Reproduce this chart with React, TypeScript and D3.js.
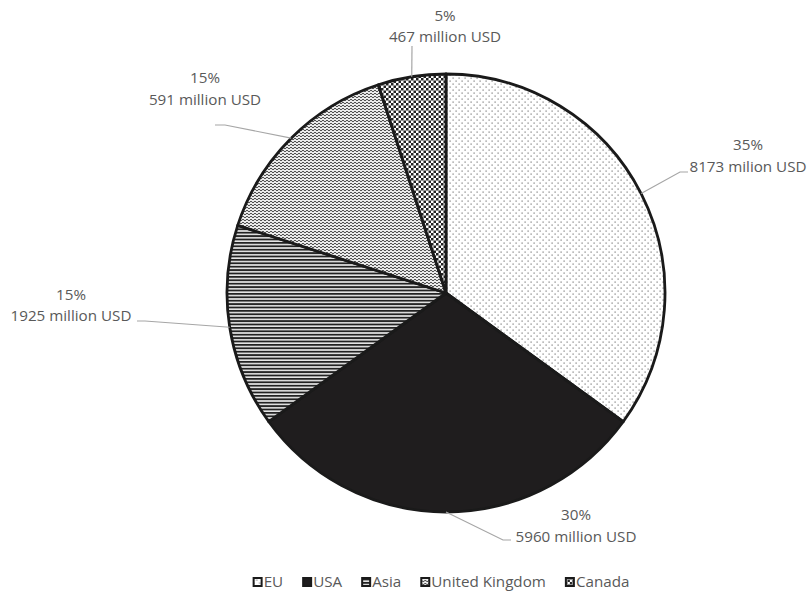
import { useRef, useEffect } from "react";
import * as d3 from "d3";

// slice shares (percent)
const regions = ["EU", "USA", "Asia", "United Kingdom", "Canada"];
const shares = [35, 30, 15, 15, 5];
const pctLabels = ["35%", "30%", "15%", "15%", "5%"];
const valueLabels = [
  "8173 milion USD",
  "5960 million USD",
  "1925 million USD",
  "591 million USD",
  "467 million USD",
];

const W = 811;
const H = 594;
const CX = 446;
const CY = 293;
const R = 219;
const FONT = "'Open Sans', sans-serif";
const FS = 15.2;
const TEXT = "#595959";

// label layout relative to pie centre: [x, line1 y, line2 y]
const LABEL_POS = [
  [302, -148, -126],
  [130, 222, 244],
  [-375, 2, 23],
  [-241, -215, -193],
  [-1, -277, -256],
];
// leader elbow and end, relative to pie centre
const LEADER = [
  [[234, -121], [242, -121]],
  [[57, 247], [65, 247]],
  [[-301, 28], [-309, 28]],
  [[-221, -168], [-231, -168]],
  [[-34, -247], [-34, -247]],
];

export default function App() {
  const svgRef = useRef<SVGSVGElement>(null);

  useEffect(() => {
    if (!svgRef.current) return;
    const svg = d3.select(svgRef.current);
    svg.selectAll("*").remove();

    const defs = svg.append("defs");

    // EU: sparse dots
    const pDots = defs.append("pattern").attr("id", "p0")
      .attr("patternUnits", "userSpaceOnUse").attr("width", 6).attr("height", 6);
    pDots.append("rect").attr("width", 6).attr("height", 6).attr("fill", "#fff");
    pDots.append("rect").attr("x", 0.5).attr("y", 0.5).attr("width", 1.2).attr("height", 1.2).attr("fill", "#777");
    pDots.append("rect").attr("x", 3.5).attr("y", 3.5).attr("width", 1.2).attr("height", 1.2).attr("fill", "#777");

    // USA: solid
    const pSolid = defs.append("pattern").attr("id", "p1")
      .attr("patternUnits", "userSpaceOnUse").attr("width", 4).attr("height", 4);
    pSolid.append("rect").attr("width", 4).attr("height", 4).attr("fill", "#1f1d1e");

    // Asia: horizontal lines
    const pLines = defs.append("pattern").attr("id", "p2")
      .attr("patternUnits", "userSpaceOnUse").attr("width", 4).attr("height", 3.4);
    pLines.append("rect").attr("width", 4).attr("height", 3.4).attr("fill", "#e6e6e6");
    pLines.append("rect").attr("width", 4).attr("height", 1.8).attr("fill", "#222");

    // UK: waves
    const pWave = defs.append("pattern").attr("id", "p3")
      .attr("patternUnits", "userSpaceOnUse").attr("width", 4).attr("height", 3);
    pWave.append("rect").attr("width", 4).attr("height", 3).attr("fill", "#eee");
    pWave.append("path").attr("d", "M0,2 Q1,0.3 2,2 T4,2")
      .attr("fill", "none").attr("stroke", "#333").attr("stroke-width", 0.9);

    // Canada: checkerboard
    const pCheck = defs.append("pattern").attr("id", "p4")
      .attr("patternUnits", "userSpaceOnUse").attr("width", 5).attr("height", 5);
    pCheck.append("rect").attr("width", 5).attr("height", 5).attr("fill", "#fff");
    pCheck.append("rect").attr("width", 2.5).attr("height", 2.5).attr("fill", "#222");
    pCheck.append("rect").attr("x", 2.5).attr("y", 2.5).attr("width", 2.5).attr("height", 2.5).attr("fill", "#222");

    const pie = d3.pie<number>().sort(null).value(d => d);
    const arcs = pie(shares);
    const arc = d3.arc<d3.PieArcDatum<number>>().innerRadius(0).outerRadius(R);

    const g = svg.append("g").attr("transform", `translate(${CX},${CY})`);

    g.selectAll(".slice")
      .data(arcs)
      .join("path")
      .attr("class", "slice")
      .attr("d", arc)
      .attr("fill", (_, i) => `url(#p${i})`)
      .attr("stroke", "#1a1a1a")
      .attr("stroke-width", 2.8)
      .attr("stroke-linejoin", "round");

    // leader lines
    arcs.forEach((a, i) => {
      const mid = (a.startAngle + a.endAngle) / 2;
      const sx = Math.sin(mid) * R;
      const sy = -Math.cos(mid) * R;
      const [e1, e2] = LEADER[i];
      g.append("polyline")
        .attr("points", `${sx},${sy} ${e1[0]},${e1[1]} ${e2[0]},${e2[1]}`)
        .attr("fill", "none")
        .attr("stroke", "#a6a6a6")
        .attr("stroke-width", 1.2);
    });

    // labels
    arcs.forEach((_, i) => {
      const [lx, y1, y2] = LABEL_POS[i];
      const t = g.append("g")
        .attr("font-family", FONT).attr("font-size", FS)
        .attr("fill", TEXT).attr("text-anchor", "middle");
      t.append("text").attr("x", lx).attr("y", y1).attr("dy", "0.35em").text(pctLabels[i]);
      t.append("text").attr("x", lx).attr("y", y2).attr("dy", "0.35em").text(valueLabels[i]);
    });

    // legend, laid out from measured text widths and centred
    const leg = svg.append("g").attr("font-family", FONT).attr("font-size", FS).attr("fill", TEXT);
    const items = regions.map((name, i) => {
      const it = leg.append("g");
      it.append("rect").attr("x", 1).attr("y", -4).attr("width", 8).attr("height", 8)
        .attr("fill", `url(#p${i})`).attr("stroke", "#1a1a1a").attr("stroke-width", 2);
      const txt = it.append("text").attr("x", 11).attr("dy", "0.35em").text(name);
      const w = 11 + (txt.node() as SVGTextElement).getComputedTextLength();
      return { it, w };
    });
    const gap = 19;
    const total = d3.sum(items, d => d.w) + gap * (items.length - 1);
    let x = 441 - total / 2;
    items.forEach(d => {
      d.it.attr("transform", `translate(${x},582)`);
      x += d.w + gap;
    });
  }, []);

  return (
    <svg ref={svgRef} width={W} height={H}
      style={{ position: "absolute", left: 0, top: 0, background: "#fff" }} />
  );
}
